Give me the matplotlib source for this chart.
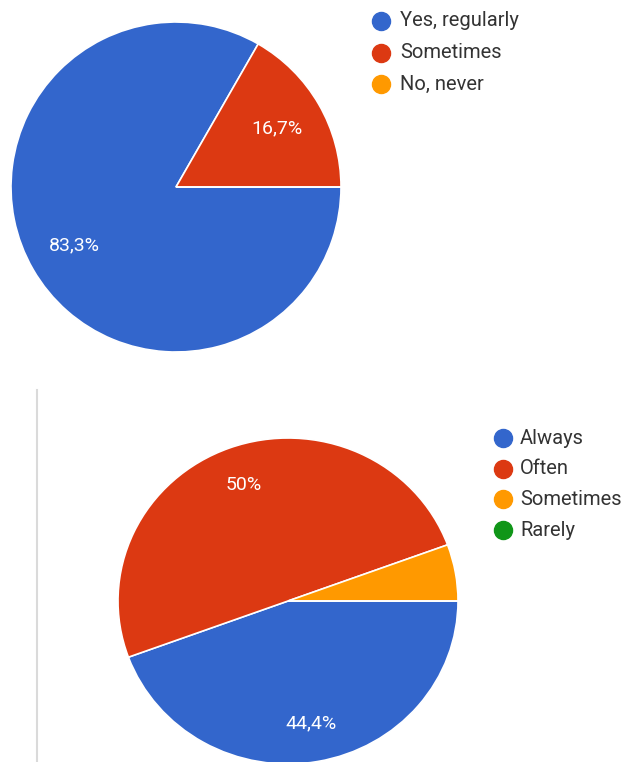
import matplotlib.pyplot as plt
from matplotlib.lines import Line2D

plt.rcParams['font.family'] = ['Roboto', 'DejaVu Sans']

W, H = 630, 762

# top chart: how often
top_labels = ['Yes, regularly', 'Sometimes', 'No, never']
top_values = [83.3, 16.7, 0]

# bottom chart
bottom_labels = ['Always', 'Often', 'Sometimes', 'Rarely']
bottom_values = [44.4, 50, 5.6, 0]

colors = ['#3366cc', '#dc3912', '#ff9900', '#109618']


def fmt_pct(p):
    """ Google Forms style: comma decimal, hide small slices """
    if p < 10:
        return ''
    s = '{:.1f}'.format(p).rstrip('0').rstrip('.')
    return s.replace('.', ',') + '%'


def px_axes(fig, cx, cy, rx, ry):
    """ axes placed so a unit-radius pie lands at pixel center (cx, cy) """
    ax = fig.add_axes([(cx - rx) / W, (H - cy - ry) / H, 2 * rx / W, 2 * ry / H])
    return ax


def draw_pie(ax, values, n_colors, pctdist):
    ax.pie(values, colors=colors[:n_colors], startangle=0,
           counterclock=False, radius=1, autopct=fmt_pct,
           pctdistance=pctdist,
           wedgeprops=dict(edgecolor='white', linewidth=1.2),
           textprops=dict(color='white', fontsize=14))
    ax.set_aspect('auto')
    ax.set_xlim(-1, 1)
    ax.set_ylim(-1, 1)
    ax.axis('off')


def draw_legend(fig, labels, x, y, step, gap):
    """ round markers + labels, positions in pixels """
    for i, lab in enumerate(labels):
        yy = y + i * step
        fig.add_artist(Line2D([x / W], [1 - yy / H], marker='o', markersize=13,
                              color=colors[i], linestyle='none'))
        fig.text((x + gap) / W, 1 - yy / H, lab, fontsize=14.5, color='#333333',
                 va='center', ha='left')


fig = plt.figure(figsize=(W / 100, H / 100), dpi=100)

ax1 = px_axes(fig, 176, 187, 165, 165)
draw_pie(ax1, top_values, 3, 0.71)
draw_legend(fig, top_labels, 381, 21, 31.5, 19)

ax2 = px_axes(fig, 288, 601, 170, 163)
draw_pie(ax2, bottom_values, 4, 0.76)
draw_legend(fig, bottom_labels, 503, 438, 30.7, 17)

# thin grey divider on the left of the second chart
fig.add_artist(Line2D([36.5 / W, 36.5 / W], [1 - 390 / H, 0], color='#dadada', linewidth=1.5))

fig.savefig('out.png', dpi=100)
